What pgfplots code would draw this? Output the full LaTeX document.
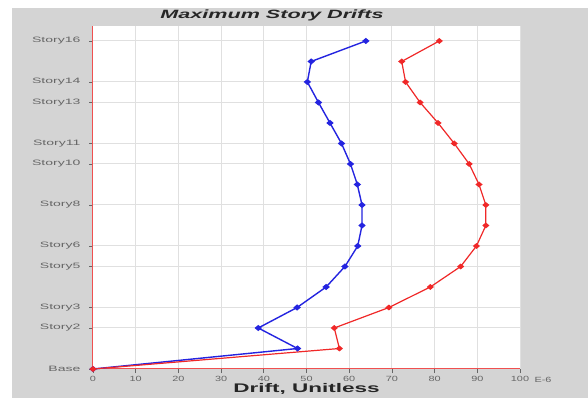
\documentclass[border=0pt]{standalone}
\usepackage{fontspec}
\setmainfont{Liberation Sans}
\newfontfamily\widefont[FakeStretch=1.8]{Liberation Sans}
\newfontfamily\numfont[FakeStretch=1.45]{Liberation Sans}
\usepackage{pgfplots}
\pgfplotsset{compat=1.18}
\definecolor{bggray}{HTML}{D4D4D4}
\definecolor{lblue}{HTML}{2424E0}
\definecolor{lred}{HTML}{F02828}
\definecolor{axred}{HTML}{F05050}
\begin{document}
\begin{tikzpicture}[x=1pt,y=1pt]
\fill[white] (-93,-29) rectangle (495,369);
\fill[bggray] (-81,-29) rectangle (495,361);
\fill[white] (0,0) rectangle (427,343);
\begin{axis}[
  at={(0,0)}, anchor=south west, scale only axis,
  width=427pt, height=343pt,
  xmin=0, xmax=100, ymin=0, ymax=16.73,
  axis x line*=bottom, axis y line*=left,
  axis line style={axred, line width=1pt, -},
  xtick={0,10,...,100},
  xticklabels={0,10,20,30,40,50,60,70,80,90,100},
  ytick={0,2,3,5,6,8,10,11,13,14,16},
  yticklabels={Base,Story2,Story3,Story5,Story6,Story8,Story10,Story11,Story13,Story14,Story16},
  tick align=outside, major tick length=4pt,
  tick style={black!60, line width=0.8pt},
  grid=major, grid style={black!12, line width=1pt},
  xticklabel style={font=\numfont\fontsize{7.5}{8}\selectfont, text=black!60},
  yticklabel style={font=\widefont\fontsize{7.8}{8}\selectfont, text=black!60, xshift=-5pt},
  xlabel={Drift, Unitless},
  xlabel style={at={(rel axis cs:0.5,0)}, anchor=center, yshift=-20pt, font=\widefont\bfseries\fontsize{12.5}{13}\selectfont, text=black!85},
  clip=false,
]
\addplot[lblue, line width=1.4pt, mark=diamond*, mark size=2.2pt, mark options={xscale=1.6}] coordinates {
(0,0) (47.9,1) (38.7,2) (47.8,3) (54.6,4) (59.0,5) (62.0,6) (63.0,7) (63.0,8)
(61.9,9) (60.3,10) (58.2,11) (55.5,12) (52.8,13) (50.2,14) (51.1,15) (63.9,16)};
\addplot[lred, line width=1.2pt, mark=diamond*, mark size=2.2pt, mark options={xscale=1.6}] coordinates {
(0,0) (57.7,1) (56.5,2) (69.3,3) (79.0,4) (86.1,5) (89.8,6) (92.0,7) (92.0,8)
(90.4,9) (88.1,10) (84.6,11) (80.8,12) (76.6,13) (73.2,14) (72.3,15) (81.1,16)};
\end{axis}
\node[font=\widefont\bfseries\itshape\fontsize{12}{13}\selectfont, text=black!85] at (179,354) {Maximum Story Drifts};
\node[font=\numfont\fontsize{7.5}{8}\selectfont, text=black!60] at (450,-11) {E-6};
\end{tikzpicture}
\end{document}
